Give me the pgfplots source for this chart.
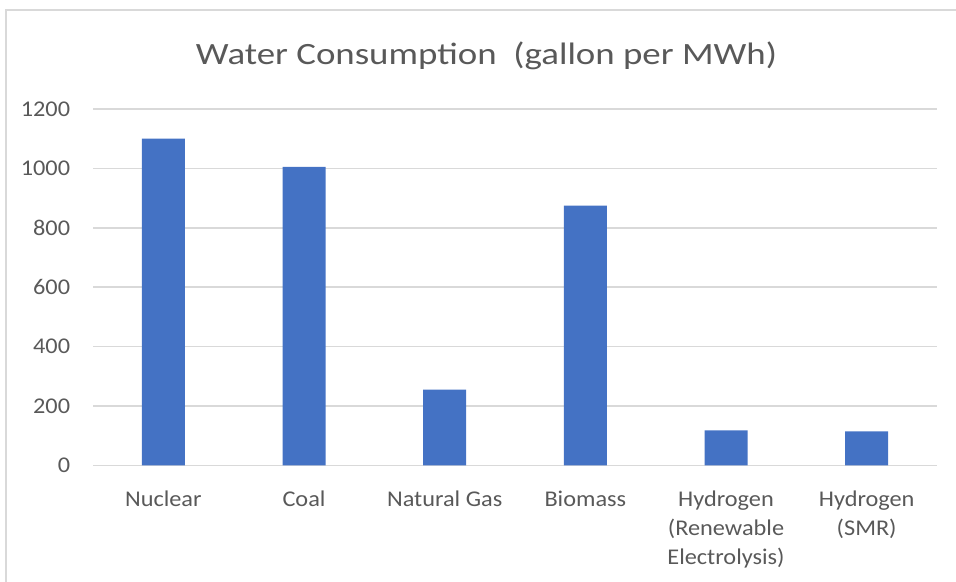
\documentclass[border=0pt]{standalone}
\usepackage{pgfplots}
\pgfplotsset{compat=1.18}
\usepackage{fontspec}
\setmainfont{Carlito}
\definecolor{barblue}{HTML}{4472C4}
\definecolor{txtgray}{HTML}{595959}
\definecolor{gridgray}{HTML}{D9D9D9}
\begin{document}
\begin{tikzpicture}[x=1bp,y=1bp]
\useasboundingbox (0,0) rectangle (956,582);
\draw[gridgray, line width=2bp] (6,0) -- (6,572) -- (956,572);
\node[anchor=base, text=txtgray, inner sep=0pt, xscale=1.19, font=\fontsize{31bp}{37bp}\selectfont] at (486.5,517) {Water Consumption\ \ (gallon per MWh)};
\begin{axis}[
  at={(93bp,116.5bp)}, anchor=south west,
  scale only axis, width=844bp, height=356.5bp,
  ybar, bar width=43bp,
  xmin=-0.5, xmax=5.5, ymin=0, ymax=1200,
  ytick={0,200,...,1200},
  xtick={0,1,2,3,4,5},
  xticklabels={Nuclear,Coal,Natural Gas,Biomass,{Hydrogen\\(Renewable\\Electrolysis)},{Hydrogen\\(SMR)}},
  axis line style={draw=none}, tick style={draw=none},
  ymajorgrids, major grid style={gridgray, line width=1.5bp},
  /pgf/number format/assume math mode=true,
  /pgf/number format/1000 sep={},
  ticklabel style={text=txtgray, xscale=1.08, font=\fontsize{22.5bp}{29bp}\selectfont},
  xticklabel style={anchor=north, inner sep=0pt, yshift=-21bp, align=center},
  yticklabel style={anchor=east, inner sep=0pt, xshift=-21bp},
  clip=false,
]
\addplot[fill=barblue, draw=none] coordinates {(0,1100) (1,1005) (2,255) (3,875) (4,118) (5,115)};
\end{axis}
\end{tikzpicture}
\end{document}
